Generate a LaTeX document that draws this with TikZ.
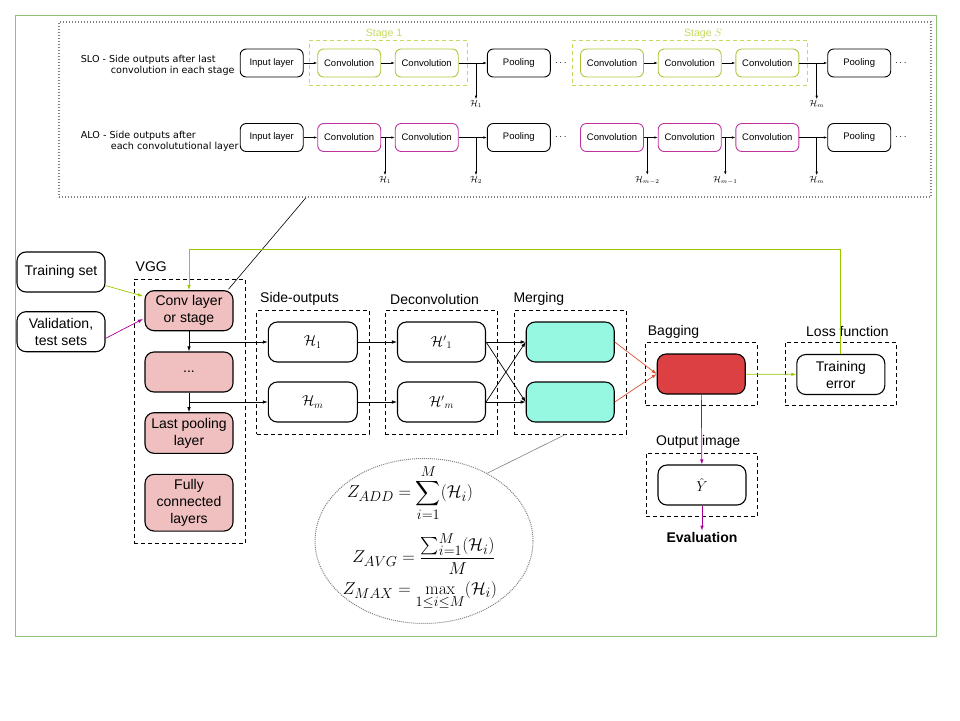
\documentclass[tikz,border=0pt]{standalone}
\usepackage{exscale}
\usepackage{amsmath}
\usepackage[no-math]{fontspec}
\setmainfont{Liberation Sans}
\newfontfamily\dejavu{DejaVu Sans}
\usetikzlibrary{shapes.geometric,arrows.meta,calc}
\definecolor{framegreen}{RGB}{140,195,115}
\definecolor{sgreen}{RGB}{170,200,60}
\definecolor{stagecol}{RGB}{195,218,95}
\definecolor{smag}{RGB}{190,50,160}
\definecolor{lgreen}{RGB}{153,200,0}
\definecolor{amag}{RGB}{170,0,150}
\definecolor{aorange}{RGB}{225,80,50}
\definecolor{pinkfill}{RGB}{240,192,192}
\definecolor{cyanfill}{RGB}{150,248,225}
\definecolor{redfill}{RGB}{220,64,66}
\begin{document}
\begin{tikzpicture}[x=1pt,y=-1pt,
  bbox/.style={draw, line width=1.1pt, rounded corners=9pt, minimum width=88pt, minimum height=40pt, align=center, font=\fontsize{14}{17}\selectfont, inner sep=0pt},
  tbox/.style={draw, line width=0.9pt, rounded corners=6pt, minimum width=63pt, minimum height=28pt, font=\fontsize{9.5}{11}\selectfont, inner sep=0pt},
  frame/.style={draw, line width=0.8pt, dash pattern=on 4pt off 3pt, inner sep=0pt},
  lab/.style={font=\fontsize{14}{17}\selectfont, anchor=west, inner sep=0pt},
  arr/.style={-{Latex[length=5pt,width=3.5pt]}, line width=0.7pt},
  sarr/.style={-{Latex[length=3.5pt,width=2.5pt]}, line width=0.6pt},
  hl/.style={font=\fontsize{9}{11}\selectfont, inner sep=1pt},
  dts/.style={font=\fontsize{10}{12}\selectfont, inner sep=0pt},
  side/.style={font=\dejavu\fontsize{9.6}{11}\selectfont, anchor=base west, inner sep=0pt},
  eq/.style={font=\fontsize{19}{23}\selectfont, inner sep=0pt},
]
\useasboundingbox (0,0) rectangle (960,720);
% outer green frame
\draw[framegreen, line width=1pt] (15.5,15.5) rectangle (936,636);
% top panel
\node[draw=gray, line width=1.3pt, dash pattern=on 1.3pt off 1.7pt, minimum width=872pt, minimum height=175pt, inner sep=0pt] (panel) at (495,109.5) {};

% SLO row
\node[side] (slo1) at (80.7,62) {SLO - Side outputs after last};
\node[side] (slo2) at (110.7,73) {convolution in each stage};
\node[frame, draw=stagecol] (st1) at (388.3,62.7) [minimum width=158pt, minimum height=44.7pt] {};
\node[frame, draw=stagecol] (stS) at (689.8,62.7) [minimum width=235pt, minimum height=44.7pt] {};
\node[stagecol, font=\fontsize{10.5}{12}\selectfont, inner sep=0pt] (st1l) at (384,34) {Stage 1};
\node[stagecol, font=\fontsize{10.5}{12}\selectfont, inner sep=0pt] (stSl) at (703,34) {Stage $S$};
\node[tbox] (i1) at (271.7,63) {Input layer};
\node[tbox, draw=sgreen] (c11) at (349.2,63) {Convolution};
\node[tbox, draw=sgreen] (c12) at (426.7,63) {Convolution};
\node[tbox] (p11) at (518.8,63) {Pooling};
\node[dts] (d11) at (561.7,63) {$\cdots$};
\node[tbox, draw=sgreen] (c13) at (612,63) {Convolution};
\node[tbox, draw=sgreen] (c14) at (689.7,63) {Convolution};
\node[tbox, draw=sgreen] (c15) at (767.3,63) {Convolution};
\node[tbox] (p12) at (859.2,63) {Pooling};
\node[dts] (d12) at (901.7,63) {$\cdots$};
\draw[sarr] (i1) -- (c11);
\draw[sarr] (c11) -- (c12);
\draw[sarr] (c12) -- (p11);
\draw[sarr] (c13) -- (c14);
\draw[sarr] (c14) -- (c15);
\draw[sarr] (c15) -- (p12);
\node[hl] (h11) at (476,104) {$\mathcal{H}_1$};
\node[hl] (h12) at (816.7,104) {$\mathcal{H}_m$};
\draw[sarr] (c12.east -| h11.north) -- (h11.north);
\draw[sarr] (c15.east -| h12.north) -- (h12.north);

% ALO row
\node[side] (alo1) at (80.7,138.5) {ALO - Side outputs after};
\node[side] (alo2) at (110.7,149) {each convolututional layer};
\node[tbox] (i2) at (271.7,137.5) {Input layer};
\node[tbox, draw=smag] (c21) at (349.2,137.5) {Convolution};
\node[tbox, draw=smag] (c22) at (426.7,137.5) {Convolution};
\node[tbox] (p21) at (518.8,137.5) {Pooling};
\node[dts] (d21) at (561.7,137.5) {$\cdots$};
\node[tbox, draw=smag] (c23) at (612,137.5) {Convolution};
\node[tbox, draw=smag] (c24) at (689.7,137.5) {Convolution};
\node[tbox, draw=smag] (c25) at (767.3,137.5) {Convolution};
\node[tbox] (p22) at (859.2,137.5) {Pooling};
\node[dts] (d22) at (901.7,137.5) {$\cdots$};
\draw[sarr] (i2) -- (c21);
\draw[sarr] (c21) -- (c22);
\draw[sarr] (c22) -- (p21);
\draw[sarr] (c23) -- (c24);
\draw[sarr] (c24) -- (c25);
\draw[sarr] (c25) -- (p22);
\node[hl] (h21) at (385,180) {$\mathcal{H}_1$};
\node[hl] (h22) at (476,180) {$\mathcal{H}_2$};
\node[hl] (h23) at (647.3,180) {$\mathcal{H}_{m-2}$};
\node[hl] (h24) at (725.3,180) {$\mathcal{H}_{m-1}$};
\node[hl] (h25) at (816.7,180) {$\mathcal{H}_m$};
\draw[sarr] (c21.east -| h21.north) -- (h21.north);
\draw[sarr] (c22.east -| h22.north) -- (h22.north);
\draw[sarr] (c23.east -| h23.north) -- (h23.north);
\draw[sarr] (c24.east -| h24.north) -- (h24.north);
\draw[sarr] (c25.east -| h25.north) -- (h25.north);

% inputs
\node[bbox] (train) at (61,272) {Training set};
\node[bbox] (valid) at (61,331.7) {Validation,\\test sets};

% VGG
\node[frame, minimum width=111.7pt, minimum height=264pt] (vggf) at (189.85,411.3) {};
\node[lab] (vggl) at (135.5,267) {VGG};
\node[bbox, fill=pinkfill] (conv) at (189,310.7) {Conv layer\\or stage};
\node[bbox, fill=pinkfill] (dots) at (189,372) {...};
\node[bbox, fill=pinkfill, minimum height=40.6pt] (lastp) at (189,433) {Last pooling\\layer};
\node[bbox, fill=pinkfill, minimum height=56.7pt] (fc) at (189,502.7) {Fully\\connected\\layers};

% side outputs
\node[frame, minimum width=112.3pt, minimum height=123.3pt] (sof) at (312.85,372.35) {};
\node[lab] (sol) at (260,299) {Side-outputs};
\node[bbox, minimum width=89pt] (h1) at (312.8,342) {$\mathcal{H}_1$};
\node[bbox, minimum width=89pt] (hm) at (312.8,402) {$\mathcal{H}_m$};

% deconvolution
\node[frame, minimum width=112.3pt, minimum height=123.3pt] (dcf) at (441.15,372.35) {};
\node[lab] (dcl) at (390,299) {Deconvolution};
\node[bbox] (h1p) at (441.5,342) {${\mathcal{H}'}_1$};
\node[bbox] (hmp) at (441.5,402) {${\mathcal{H}'}_m$};

% merging
\node[frame, minimum width=112.4pt, minimum height=123.3pt] (mf) at (570.5,372.35) {};
\node[lab] (ml) at (513.3,299) {Merging};
\node[bbox, fill=cyanfill] (m1) at (570.2,342) {};
\node[bbox, fill=cyanfill] (m2) at (570.2,402) {};

% bagging
\node[frame, minimum width=111.6pt, minimum height=62.3pt] (bf) at (701.5,373.85) {};
\node[lab] (bl) at (647.7,331.7) {Bagging};
\node[bbox, fill=redfill] (red) at (701.2,374) {};

% loss
\node[frame, minimum width=111.7pt, minimum height=63pt] (lf) at (840.85,374.2) {};
\node[lab] (ll) at (806,331) {Loss function};
\node[bbox] (terr) at (840.8,374.5) {Training\\error};

% output
\node[frame, minimum width=111.7pt, minimum height=62.7pt] (of) at (701.85,484.65) {};
\node[lab] (ol) at (656,442.3) {Output image};
\node[bbox] (yhat) at (702,485) {$\hat{Y}$};
\node[font=\bfseries\fontsize{14}{17}\selectfont, inner sep=1pt] (eval) at (702,537) {Evaluation};

% ellipse with equations
\node[draw=gray, ellipse, line width=1pt, dash pattern=on 1pt off 1pt, minimum width=218pt, minimum height=165pt, inner sep=0pt] (ell) at (424,541) {};
\node[eq] (eq1) at (410,493) {$\displaystyle Z_{ADD}=\sum_{i=1}^{M}(\mathcal{H}_i)$};
\node[eq] (eq2) at (424,554) {$\displaystyle Z_{AVG}=\frac{\sum_{i=1}^{M}(\mathcal{H}_i)}{M}$};
\node[eq] (eq3) at (420,596) {$\displaystyle Z_{MAX}=\max_{1\leq i\leq M}(\mathcal{H}_i)$};
\draw[gray, line width=0.6pt] (ell.47) -- ([xshift=-5pt]mf.south);

% zoom connector
\draw[line width=0.6pt] ([xshift=-189pt]panel.south) -- ([xshift=-5pt,yshift=1pt]conv.north east);

% connectors
\draw[arr, lgreen] ([yshift=7pt]train.south east) -- ([xshift=-1.5pt,yshift=-6pt]conv.north west);
\draw[arr, amag] ([yshift=-6.7pt]valid.east) -- ([xshift=-1.5pt,yshift=-8.3pt]conv.west);
\draw[arr] (conv) -- (dots);
\draw[arr] (dots) -- (lastp);
\draw[arr] (conv.south |- h1.west) -- (h1.west);
\draw[arr] (dots.south |- hm.west) -- (hm.west);
\draw[arr] (h1) -- (h1p);
\draw[arr] (hm) -- (hmp);
\draw[arr] (h1p.east) -- (m1.west);
\draw[arr] (h1p.east) -- (m2.west);
\draw[arr] (hmp.east) -- (m1.west);
\draw[arr] (hmp.east) -- (m2.west);
\draw[arr, aorange] (m1.east) -- (red.west);
\draw[arr, aorange] (m2.east) -- (red.west);
\draw[arr, lgreen] (red) -- (terr);
\draw[arr, amag] (red) -- (yhat);
\draw[arr, amag] (yhat) -- (eval);
\draw[arr, lgreen] (terr.north) -- ++(0,-104.5) -| (conv.north);
\end{tikzpicture}
\end{document}
